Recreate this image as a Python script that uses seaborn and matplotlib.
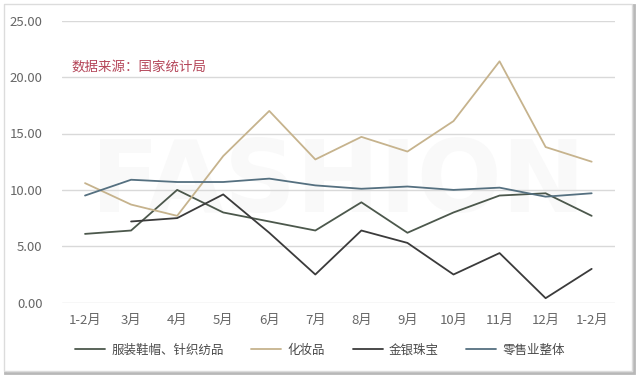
import numpy as np
import pandas as pd
import matplotlib
matplotlib.use("Agg")
import matplotlib.pyplot as plt
from matplotlib.patches import Rectangle
import seaborn as sns

# --- Daten ---
months = ['1-2月', '3月', '4月', '5月', '6月', '7月', '8月', '9月', '10月', '11月', '12月', '1-2月']
apparel = [6.1, 6.4, 10.0, 8.0, 7.2, 6.4, 8.9, 6.2, 8.0, 9.5, 9.7, 7.7]
cosmetics = [10.6, 8.7, 7.7, 13.0, 17.0, 12.7, 14.7, 13.4, 16.1, 21.4, 13.8, 12.5]
jewelry = [np.nan, 7.2, 7.5, 9.6, 6.2, 2.5, 6.4, 5.3, 2.5, 4.4, 0.4, 3.0]
retail = [9.5, 10.9, 10.7, 10.7, 11.0, 10.4, 10.1, 10.3, 10.0, 10.2, 9.4, 9.7]

series_names = ['服装鞋帽、针织纺品', '化妆品', '金银珠宝', '零售业整体']
series_vals = [apparel, cosmetics, jewelry, retail]
colors = ['#4c584c', '#c6b38d', '#3b3b3b', '#557080']
y_ticks = [0, 5, 10, 15, 20, 25]

sns.set_style("white")
plt.rcParams['font.family'] = ['Noto Sans CJK SC', 'DejaVu Sans']

rows = []
for name, vals in zip(series_names, series_vals):
    for i, v in enumerate(vals):
        rows.append({'pos': i, 'value': v, 'series': name})
df = pd.DataFrame(rows)

fig = plt.figure(figsize=(6.4, 3.79), dpi=100)

# Rahmen mit Schatten (hinter der Achse)
fig.patches.append(Rectangle((5 / 640, 1 - 373 / 379), 629 / 640, 368 / 379,
                             transform=fig.transFigure, facecolor='none',
                             edgecolor='#b8b8b8', linewidth=2.0, zorder=-5))
fig.patches.append(Rectangle((4 / 640, 1 - 371 / 379), 628 / 640, 367 / 379,
                             transform=fig.transFigure, facecolor='white',
                             edgecolor='#dcdcdc', linewidth=1.0, zorder=-4))

ax = fig.add_axes([62 / 640, 1 - 302.7 / 379, (614.7 - 62) / 640, (302.7 - 20.7) / 379])
ax.set_zorder(2)

# Wasserzeichen (sehr blass)
ax.text(5.5, 10.5, 'FASHION', ha='center', va='center', fontsize=72,
        fontweight='bold', color='#f9f9f9', zorder=0, family='DejaVu Sans')

for y in y_ticks:
    ax.axhline(y, color='#d9d9d9', linewidth=1.0, zorder=1)

sns.lineplot(data=df, x='pos', y='value', hue='series', hue_order=series_names,
             palette=colors, linewidth=1.3, ax=ax, zorder=3)

ax.set_xlim(-0.5, 11.5)
ax.set_ylim(0, 25)
ax.set_xticks(range(len(months)))
ax.set_xticklabels(months)
ax.set_yticks(y_ticks)
ax.set_yticklabels([f"{v:.2f}" for v in y_ticks])
ax.tick_params(axis='both', length=0, labelsize=9.5, colors='#666666')
ax.tick_params(axis='y', pad=14)
ax.tick_params(axis='x', pad=8)
ax.set_xlabel('')
ax.set_ylabel('')
ax.patch.set_alpha(0)
sns.despine(ax=ax, left=True, bottom=True)

handles, labels = ax.get_legend_handles_labels()
ax.legend_.remove()
fig.legend(handles, labels, loc='center', bbox_to_anchor=(0.5, 1 - 350 / 379), ncol=4,
           frameon=False, fontsize=9, handlelength=2.4, handletextpad=0.5,
           columnspacing=2.2, labelcolor='#4a4a4a')

fig.text(72 / 640, 1 - 67 / 379, '数据来源：国家统计局', color='#b5475a',
         fontsize=9.7, va='center', ha='left', zorder=5)

fig.savefig('out.png', dpi=100)
